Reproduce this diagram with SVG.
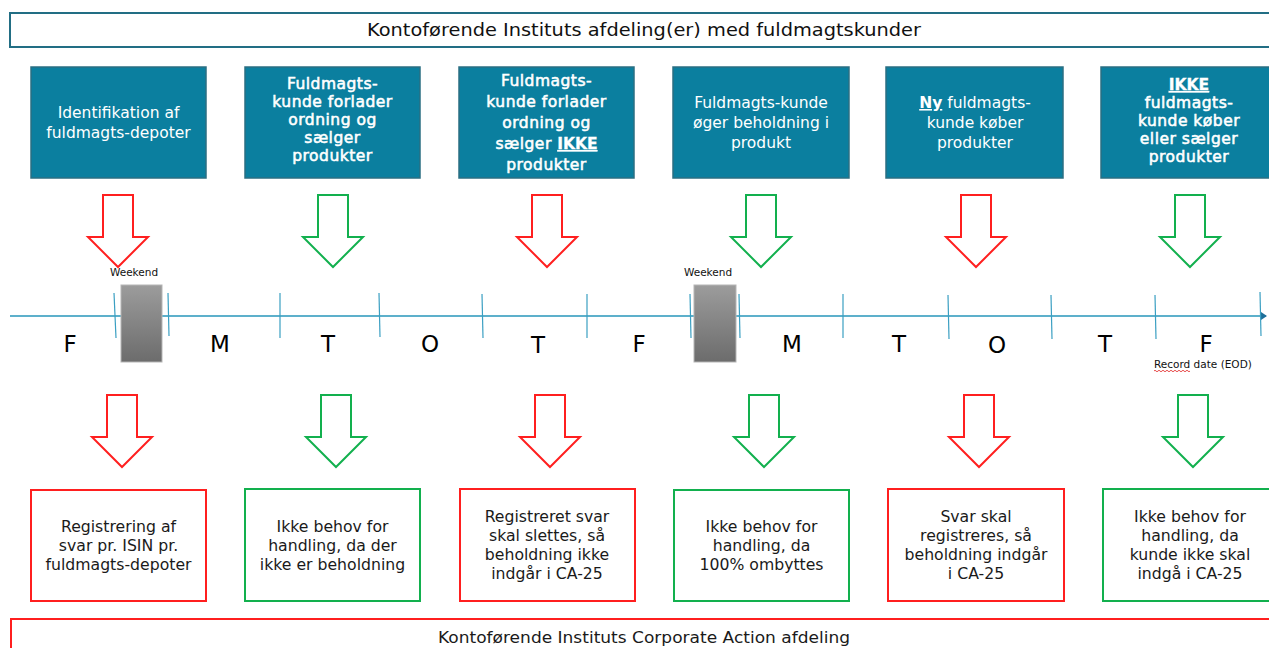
<svg xmlns="http://www.w3.org/2000/svg" width="1269" height="648" viewBox="0 0 1269 648">
<style>
.frame{fill:#fff;stroke-width:2}
.top{fill:#0b7f9f;stroke:#2b6f83;stroke-width:1.5}
.tw{fill:#fff;font-family:"DejaVu Sans","Liberation Sans",sans-serif;text-anchor:middle}
.sb{font-size:15.5px;letter-spacing:0.5px;stroke:#fff;stroke-width:0.55}
.rg{font-size:15.5px}
.bx{fill:#fff;stroke-width:2}
.red{stroke:#ff1f1f}
.grn{stroke:#12b04e}
.bt{fill:#1a1a1a;font-family:"DejaVu Sans","Liberation Sans",sans-serif;font-size:15.7px;text-anchor:middle}
.day{fill:#000;font-family:"DejaVu Sans","Liberation Sans",sans-serif;font-size:23px;text-anchor:middle}
.sm{fill:#111;font-family:"DejaVu Sans","Liberation Sans",sans-serif;font-size:10.5px}
.tick{stroke:#3a9fc2;stroke-width:1.2}
.arr{fill:#fff;stroke-width:2;stroke-linejoin:miter}
.wk{fill:url(#gw);stroke:#b5b5b5;stroke-width:1}
.hv{font-weight:bold;stroke-width:0.3;letter-spacing:0}
</style>
<defs>
<linearGradient id="gw" x1="0" y1="0" x2="0" y2="1">
<stop offset="0" stop-color="#9c9c9c"/>
<stop offset="1" stop-color="#6c6c6c"/>
</linearGradient>
<path id="blk" d="M-15,0 H15 V42 H30 L0,72 L-30,42 H-15 Z"/>
<marker id="ah" markerWidth="6" markerHeight="8" refX="5" refY="4" orient="auto" markerUnits="userSpaceOnUse">
<path d="M0,0 L6,4 L0,8 Z" fill="#1f6f9a"/>
</marker>
</defs>

<g id="header">
<rect class="frame" x="10" y="13" width="1270" height="34" stroke="#226e84"/>
<text x="644" y="36" fill="#111" font-family="DejaVu Sans, Liberation Sans, sans-serif" font-size="18" text-anchor="middle" textLength="554" lengthAdjust="spacingAndGlyphs">Kontoførende Instituts afdeling(er) med fuldmagtskunder</text>
</g>

<g id="top1"><rect class="top" x="31" y="67" width="175" height="111"/>
<text class="tw rg" font-size="16" x="118.5"><tspan x="118.5" y="118">Identifikation af</tspan><tspan x="118.5" y="138">fuldmagts-depoter</tspan></text></g>
<g id="top2"><rect class="top" x="245" y="67" width="175" height="111"/>
<text class="tw sb" x="332.5"><tspan x="332.5" y="89">Fuldmagts-</tspan><tspan x="332.5" y="107">kunde forlader</tspan><tspan x="332.5" y="125">ordning og</tspan><tspan x="332.5" y="143">sælger</tspan><tspan x="332.5" y="161">produkter</tspan></text></g>
<g id="top3"><rect class="top" x="459" y="67" width="175" height="111"/>
<text class="tw sb" x="546.5"><tspan x="546.5" y="86">Fuldmagts-</tspan><tspan x="546.5" y="107">kunde forlader</tspan><tspan x="546.5" y="128">ordning og</tspan><tspan x="546.5" y="149">sælger <tspan class="hv" text-decoration="underline">IKKE</tspan></tspan><tspan x="546.5" y="170">produkter</tspan></text></g>
<g id="top4"><rect class="top" x="673" y="67" width="176" height="111"/>
<text class="tw rg" x="761"><tspan x="761" y="108">Fuldmagts-kunde</tspan><tspan x="761" y="128">øger beholdning i</tspan><tspan x="761" y="148">produkt</tspan></text></g>
<g id="top5"><rect class="top" x="886" y="67" width="177" height="111"/>
<text class="tw rg" x="975"><tspan x="975" y="108"><tspan font-weight="bold" text-decoration="underline">Ny</tspan> fuldmagts-</tspan><tspan x="975" y="128">kunde køber</tspan><tspan x="975" y="148">produkter</tspan></text></g>
<g id="top6"><rect class="top" x="1101" y="67" width="176" height="111"/>
<text class="tw sb" x="1189"><tspan x="1189" y="90" class="hv" text-decoration="underline">IKKE</tspan><tspan x="1189" y="108">fuldmagts-</tspan><tspan x="1189" y="126">kunde køber</tspan><tspan x="1189" y="144">eller sælger</tspan><tspan x="1189" y="162">produkter</tspan></text></g>

<g id="timeline">
<line x1="10" y1="316" x2="1266" y2="316" stroke="#5db0cb" stroke-width="2" marker-end="url(#ah)"/>
<g class="tick">
<line x1="114" y1="293" x2="116" y2="338"/>
<line x1="168" y1="293" x2="169" y2="336"/>
<line x1="280" y1="293" x2="280" y2="338"/>
<line x1="379" y1="293" x2="380" y2="337"/>
<line x1="482" y1="294" x2="483" y2="338"/>
<line x1="587" y1="294" x2="587" y2="338"/>
<line x1="690" y1="294" x2="691" y2="338"/>
<line x1="739" y1="294" x2="740" y2="338"/>
<line x1="843" y1="294" x2="843" y2="338"/>
<line x1="948" y1="295" x2="949" y2="339"/>
<line x1="1051" y1="295" x2="1052" y2="339"/>
<line x1="1155" y1="295" x2="1156" y2="339"/>
<line x1="1260" y1="292" x2="1261" y2="336"/>
</g>
<rect class="wk" x="121" y="285" width="41" height="77"/>
<rect class="wk" x="694" y="285" width="42" height="77"/>
<text class="sm" x="134" y="276" text-anchor="middle">Weekend</text>
<text class="sm" x="708" y="276" text-anchor="middle">Weekend</text>
<text class="day" x="70" y="352">F</text>
<text class="day" x="220" y="352">M</text>
<text class="day" x="328" y="352">T</text>
<text class="day" x="430" y="352">O</text>
<text class="day" x="538" y="353">T</text>
<text class="day" x="639" y="352">F</text>
<text class="day" x="792" y="352">M</text>
<text class="day" x="899" y="352">T</text>
<text class="day" x="997" y="353">O</text>
<text class="day" x="1105" y="352">T</text>
<text class="day" x="1206" y="352">F</text>
<text class="sm" x="1154" y="368">Record date (EOD)</text>
<path d="M1154,371 q1,-1.5 2,0 t2,0 t2,0 t2,0 t2,0 t2,0 t2,0 t2,0 t2,0 t2,0 t2,0 t2,0 t2,0 t2,0 t2,0 t2,0 t2,0 t2,0" fill="none" stroke="#e02020" stroke-width="0.8"/>
</g>

<g id="connectors">
<use href="#blk" class="arr red" x="118" y="195"/>
<use href="#blk" class="arr grn" x="333" y="195"/>
<use href="#blk" class="arr red" x="547" y="195"/>
<use href="#blk" class="arr grn" x="761" y="195"/>
<use href="#blk" class="arr red" x="976" y="195"/>
<use href="#blk" class="arr grn" x="1190" y="195"/>
<use href="#blk" class="arr red" x="122" y="395"/>
<use href="#blk" class="arr grn" x="336" y="395"/>
<use href="#blk" class="arr red" x="550" y="395"/>
<use href="#blk" class="arr grn" x="764" y="395"/>
<use href="#blk" class="arr red" x="979" y="395"/>
<use href="#blk" class="arr grn" x="1193" y="395"/>
</g>

<g id="bot1"><rect class="bx red" x="31" y="490" width="175" height="111"/>
<text class="bt"><tspan x="118.5" y="532">Registrering af</tspan><tspan x="118.5" y="551">svar pr. ISIN pr.</tspan><tspan x="118.5" y="570">fuldmagts-depoter</tspan></text></g>
<g id="bot2"><rect class="bx grn" x="245" y="489" width="175" height="112"/>
<text class="bt"><tspan x="332.5" y="532">Ikke behov for</tspan><tspan x="332.5" y="551">handling, da der</tspan><tspan x="332.5" y="570">ikke er beholdning</tspan></text></g>
<g id="bot3"><rect class="bx red" x="460" y="489" width="175" height="112"/>
<text class="bt"><tspan x="547" y="522">Registreret svar</tspan><tspan x="547" y="541">skal slettes, så</tspan><tspan x="547" y="560">beholdning ikke</tspan><tspan x="547" y="579">indgår i CA-25</tspan></text></g>
<g id="bot4"><rect class="bx grn" x="674" y="490" width="175" height="111"/>
<text class="bt"><tspan x="761.5" y="532">Ikke behov for</tspan><tspan x="761.5" y="551">handling, da</tspan><tspan x="761.5" y="570">100% ombyttes</tspan></text></g>
<g id="bot5"><rect class="bx red" x="888" y="489" width="176" height="112"/>
<text class="bt"><tspan x="976" y="522">Svar skal</tspan><tspan x="976" y="541">registreres, så</tspan><tspan x="976" y="560">beholdning indgår</tspan><tspan x="976" y="579">i CA-25</tspan></text></g>
<g id="bot6"><rect class="bx grn" x="1103" y="489" width="176" height="112"/>
<text class="bt"><tspan x="1190" y="522">Ikke behov for</tspan><tspan x="1190" y="541">handling, da</tspan><tspan x="1190" y="560">kunde ikke skal</tspan><tspan x="1190" y="579">indgå i CA-25</tspan></text></g>

<g id="footer">
<rect class="frame red" x="11" y="619" width="1270" height="40"/>
<text class="bt" x="644" y="643" font-size="16.3" textLength="412" lengthAdjust="spacingAndGlyphs">Kontoførende Instituts Corporate Action afdeling</text>
</g>
</svg>
